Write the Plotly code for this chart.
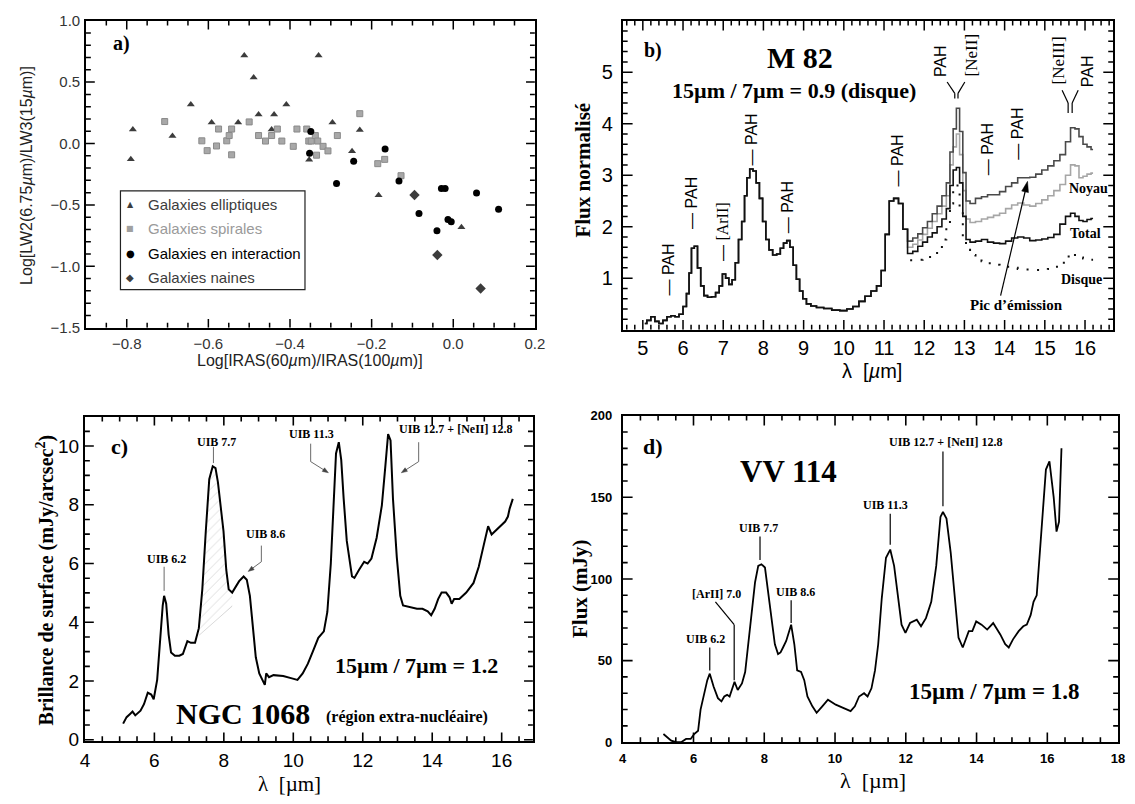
import math
import plotly.graph_objects as go

W, H = 1135, 804
SERIF = "Liberation Serif"
SANS = "Liberation Sans"

# ---------------- panel a : colour-colour diagram ----------------
ell_x = [-0.785, -0.790, -0.688, -0.643, -0.592, -0.527, -0.512, -0.489, -0.477, -0.439,
         -0.445, -0.409, -0.330, -0.353, -0.296, -0.248, -0.229, -0.183, 0.020]
ell_y = [0.115, -0.129, 0.062, 0.317, 0.171, 0.171, 0.716, 0.538, 0.237, 0.237,
         0.115, 0.317, 0.716, -0.132, 0.171, -0.063, 0.110, -0.421, -0.682]
spi_x = [-0.707, -0.616, -0.603, -0.580, -0.575, -0.555, -0.549, -0.543, -0.543, -0.500,
         -0.477, -0.460, -0.445, -0.431, -0.420, -0.383, -0.392, -0.359, -0.354, -0.348,
         -0.338, -0.335, -0.332, -0.319, -0.307, -0.284, -0.229, -0.185, -0.168, -0.128]
spi_y = [0.179, 0.022, -0.058, -0.020, 0.118, 0.022, 0.065, 0.118, -0.092, 0.176,
         0.065, 0.020, 0.065, 0.118, 0.020, 0.118, -0.023, 0.118, 0.020, 0.020,
         0.065, -0.095, 0.020, -0.023, -0.060, 0.065, 0.243, -0.164, -0.129, -0.262]
int_x = [-0.349, -0.352, -0.286, -0.244, -0.167, -0.133, -0.084, -0.029, -0.020, -0.040,
         -0.013, -0.005, 0.057, 0.111]
int_y = [0.097, -0.079, -0.326, -0.145, -0.044, -0.305, -0.570, -0.366, -0.366, -0.711,
         -0.618, -0.637, -0.403, -0.536]
nai_x = [-0.095, -0.039, 0.067]
nai_y = [-0.419, -0.908, -1.181]
legend_labels = ["Galaxies elliptiques", "Galaxies spirales",
                 "Galaxies en interaction", "Galaxies naines"]

# ---------------- panel b : M 82 ----------------
wl_b = [5.05, 5.15, 5.25, 5.35, 5.45, 5.55, 5.65, 5.75, 5.85, 5.95, 6.05, 6.12, 6.18, 6.24,
        6.32, 6.40, 6.48, 6.56, 6.66, 6.76, 6.86, 6.94, 7.02, 7.10, 7.18, 7.26, 7.34, 7.42,
        7.50, 7.56, 7.62, 7.70, 7.78, 7.86, 7.94, 8.02, 8.10, 8.18, 8.28, 8.38, 8.46, 8.54,
        8.62, 8.70, 8.78, 8.86, 8.94, 9.02, 9.12, 9.24, 9.40, 9.60, 9.80, 10.00, 10.15,
        10.30, 10.45, 10.60, 10.75, 10.88, 10.98, 11.08, 11.18, 11.30, 11.42, 11.52]
flux_b = [0.12, 0.18, 0.25, 0.16, 0.12, 0.18, 0.25, 0.27, 0.25, 0.30, 0.45, 0.70, 1.10, 1.58,
          1.62, 1.20, 0.85, 0.66, 0.63, 0.64, 0.72, 0.85, 1.08, 1.00, 0.88, 0.97, 1.30, 1.75,
          2.10, 2.60, 2.95, 3.12, 3.08, 2.85, 2.55, 2.10, 1.75, 1.55, 1.45, 1.47, 1.58, 1.68,
          1.73, 1.60, 1.25, 0.98, 0.75, 0.60, 0.50, 0.46, 0.43, 0.41, 0.38, 0.37, 0.40,
          0.45, 0.55, 0.65, 0.75, 0.85, 1.15, 1.85, 2.50, 2.55, 2.45, 1.95]
wl_b_tail = [11.65, 11.78, 11.90, 12.02, 12.14, 12.26, 12.38, 12.50, 12.60, 12.68, 12.76,
             12.84, 12.92, 13.00, 13.08, 13.20, 13.35, 13.50, 13.65, 13.80, 13.95, 14.10,
             14.25, 14.40, 14.55, 14.70, 14.85, 15.00, 15.15, 15.30, 15.45, 15.58, 15.70,
             15.80, 15.90, 16.00, 16.10, 16.20]
pic_b = [1.72, 1.78, 1.86, 1.98, 2.10, 2.25, 2.40, 2.60, 2.85, 3.45, 3.90, 4.30, 3.85, 3.05,
         2.50, 2.45, 2.55, 2.58, 2.62, 2.62, 2.68, 2.78, 2.85, 2.95, 2.95, 2.96, 3.02, 3.10,
         3.18, 3.28, 3.40, 3.65, 3.92, 3.90, 3.75, 3.60, 3.55, 3.50]
noyau_b = [1.60, 1.66, 1.74, 1.85, 1.97, 2.10, 2.25, 2.40, 2.60, 3.20, 3.55, 3.80, 3.40, 2.70,
           2.15, 2.08, 2.10, 2.15, 2.18, 2.22, 2.26, 2.35, 2.42, 2.46, 2.42, 2.40, 2.45, 2.52,
           2.60, 2.70, 2.82, 3.00, 3.20, 3.18, 2.95, 2.98, 3.02, 3.04]
total_b = [1.48, 1.52, 1.62, 1.70, 1.80, 1.88, 2.00, 2.15, 2.35, 2.80, 3.10, 3.15, 2.85, 2.20,
           1.75, 1.70, 1.72, 1.75, 1.70, 1.68, 1.67, 1.72, 1.78, 1.80, 1.78, 1.73, 1.74, 1.76,
           1.79, 1.85, 2.05, 2.20, 2.26, 2.20, 2.12, 2.10, 2.14, 2.16]
disque_b = [1.35, 1.35, 1.36, 1.38, 1.41, 1.45, 1.55, 1.75, 2.05, 2.45, 2.75, 2.80, 2.30, 1.75,
            1.55, 1.45, 1.38, 1.33, 1.29, 1.26, 1.24, 1.22, 1.20, 1.18, 1.17, 1.16, 1.16, 1.16,
            1.18, 1.22, 1.30, 1.42, 1.48, 1.45, 1.40, 1.38, 1.36, 1.36]

# ---------------- panel c : NGC 1068 ----------------
wl_c = [5.10, 5.20, 5.30, 5.37, 5.45, 5.60, 5.70, 5.81, 5.91, 5.98, 6.08, 6.16, 6.24, 6.28,
        6.34, 6.41, 6.48, 6.59, 6.72, 6.82, 6.89, 6.95, 7.05, 7.17, 7.28, 7.38, 7.48, 7.58,
        7.68, 7.76, 7.83, 7.90, 7.99, 8.07, 8.14, 8.24, 8.34, 8.44, 8.57, 8.66, 8.75, 8.82,
        8.92, 9.02, 9.12, 9.18, 9.22, 9.30, 9.43, 9.71, 9.96, 10.12, 10.27, 10.42, 10.57,
        10.72, 10.88, 10.98, 11.08, 11.16, 11.23, 11.31, 11.38, 11.45, 11.54, 11.69, 11.76,
        11.89, 12.04, 12.14, 12.25, 12.40, 12.55, 12.65, 12.73, 12.80, 12.87, 12.98, 13.08,
        13.16, 13.36, 13.56, 13.72, 13.87, 13.97, 14.07, 14.17, 14.27, 14.40, 14.50, 14.56,
        14.63, 14.78, 14.98, 15.19, 15.34, 15.49, 15.61, 15.71, 15.90, 16.10, 16.18, 16.23,
        16.32]
sb_c = [0.55, 0.77, 0.88, 0.96, 0.83, 0.99, 1.21, 1.60, 1.54, 1.38, 2.04, 3.47, 4.57, 4.90,
        4.63, 3.58, 2.97, 2.86, 2.86, 2.92, 3.14, 3.36, 3.30, 3.30, 3.80, 5.12, 7.10, 8.87,
        9.31, 9.25, 8.76, 8.09, 7.10, 5.78, 5.12, 5.01, 5.23, 5.40, 5.56, 5.45, 4.90, 4.02,
        2.81, 2.26, 2.04, 1.87, 2.26, 2.13, 2.20, 2.17, 2.09, 2.04, 2.26, 2.59, 3.03,
        3.47, 3.69, 4.35, 6.00, 7.87, 9.75, 10.13, 9.53, 8.21, 6.77, 5.56, 5.51,
        5.78, 6.06, 6.00, 6.17, 6.88, 7.98, 9.31, 10.41, 10.19, 8.21, 6.22, 4.90,
        4.57, 4.52, 4.46, 4.46, 4.37, 4.24, 4.46, 4.79, 5.01, 5.01, 4.85, 4.63,
        4.79, 4.79, 5.01, 5.34, 5.89, 6.66, 7.27, 6.99, 7.21, 7.43, 7.60, 7.87,
        8.20]
# continuum under the 7.7 band (hatched area)
hatch_wl = [7.28, 8.24]
hatch_base = [3.55, 4.55]

# ---------------- panel d : VV 114 ----------------
wl_d = [5.15, 5.37, 5.51, 5.65, 5.79, 5.92, 6.02, 6.13, 6.20, 6.28, 6.39, 6.46, 6.57, 6.69,
        6.79, 6.87, 6.95, 7.02, 7.09, 7.16, 7.25, 7.37, 7.46, 7.55, 7.65, 7.74, 7.83, 7.92,
        8.02, 8.11, 8.20, 8.30, 8.39, 8.46, 8.53, 8.62, 8.76, 8.85, 8.93, 9.04, 9.13, 9.22,
        9.36, 9.48, 9.64, 9.80, 10.02, 10.25, 10.44, 10.56, 10.68, 10.82, 10.92, 11.03,
        11.13, 11.22, 11.32, 11.44, 11.56, 11.67, 11.78, 11.88, 11.99, 12.12, 12.31, 12.43,
        12.57, 12.72, 12.86, 12.98, 13.05, 13.15, 13.27, 13.37, 13.49, 13.61, 13.78, 13.88,
        13.99, 14.14, 14.30, 14.47, 14.67, 14.81, 14.91, 15.03, 15.19, 15.32, 15.42, 15.53,
        15.61, 15.70, 15.82, 15.96, 16.06, 16.18, 16.26, 16.33, 16.40]
flux_d = [5, 1, 0, 0, 2, 2, 5, 7, 20, 28, 38, 42, 34, 27,
          25, 28, 29, 28, 33, 37, 32, 36, 43, 60, 80, 98, 108, 109,
          107, 92, 74, 60, 54, 55, 58, 62, 72, 60, 44, 43, 38, 28,
          22, 18, 22, 26, 23, 21, 19, 22, 28, 30, 28, 33,
          44, 60, 88, 113, 118, 108, 90, 72, 67, 73, 75, 71,
          76, 86, 108, 138, 141, 137, 116, 92, 64, 58, 68, 68,
          74, 72, 69, 73, 66, 60, 58, 63, 68, 71, 72, 78,
          86, 90, 124, 167, 172, 150, 129, 135, 180]

# panel frames: axis ranges and pixel boxes (left, right), (top, bottom)
PANELS = {
    "":  dict(xr=[-0.9, 0.2], yr=[-1.5, 1.0], bx=(82, 537), by=(12, 326)),
    "2": dict(xr=[4.5, 16.7], yr=[0.0, 6.0], bx=(626, 1123), by=(12, 328)),
    "3": dict(xr=[4.0, 16.9], yr=[-0.05, 11.0], bx=(81, 535), by=(417, 749)),
    "4": dict(xr=[4.0, 18.0], yr=[0.0, 200.0], bx=(626, 1128), by=(416, 750)),
}
# tick layout: (tick0, major step, minor step) for x and y, tick lengths, tick width
TICKS = {
    "":  dict(x=(-0.8, 0.2, 0.05), y=(-1.5, 0.5, 0.1), L=(9, 5), w=1.5),
    "2": dict(x=(5, 1, 0.2), y=(0, 1, 0.2), L=(10, 5), w=1.5),
    "3": dict(x=(4, 2, 0.5), y=(0, 2, 0.5), L=(9, 5), w=1.6),
    "4": dict(x=(4, 2, 0.5), y=(0, 50, 10), L=(10, 5), w=1.6),
}


def pxx(x):
    return x / W


def pxy(y):
    return 1 - y / H


def scales(ref):
    p = PANELS[ref]
    sx = (p["bx"][1] - p["bx"][0]) / (p["xr"][1] - p["xr"][0])
    sy = (p["by"][1] - p["by"][0]) / (p["yr"][1] - p["yr"][0])
    return sx, sy


fig = go.Figure()

# ---- panel a traces ----
fig.add_trace(go.Scatter(x=ell_x, y=ell_y, mode="markers", xaxis="x", yaxis="y",
                         marker=dict(symbol="triangle-up", size=7, color="#3c3c3c"),
                         showlegend=False, name=legend_labels[0]))
fig.add_trace(go.Scatter(x=spi_x, y=spi_y, mode="markers", xaxis="x", yaxis="y",
                         marker=dict(symbol="square", size=6, color="#a8a8a8",
                                     line=dict(color="#8a8a8a", width=1)),
                         showlegend=False, name=legend_labels[1]))
fig.add_trace(go.Scatter(x=int_x, y=int_y, mode="markers", xaxis="x", yaxis="y",
                         marker=dict(symbol="circle", size=7, color="#000000"),
                         showlegend=False, name=legend_labels[2]))
fig.add_trace(go.Scatter(x=nai_x, y=nai_y, mode="markers", xaxis="x", yaxis="y",
                         marker=dict(symbol="diamond", size=8, color="#3c3c3c"),
                         showlegend=False, name=legend_labels[3]))

# ---- panel b traces ----
full_b = wl_b + wl_b_tail
fig.add_trace(go.Scatter(x=full_b, y=flux_b + noyau_b, mode="lines", xaxis="x2", yaxis="y2",
                         line=dict(color="#a6a6a6", width=1.6, shape="hvh"), showlegend=False))
fig.add_trace(go.Scatter(x=full_b, y=flux_b + pic_b, mode="lines", xaxis="x2", yaxis="y2",
                         line=dict(color="#4a4a4a", width=1.6, shape="hvh"), showlegend=False))
fig.add_trace(go.Scatter(x=full_b, y=flux_b + total_b, mode="lines", xaxis="x2", yaxis="y2",
                         line=dict(color="#111111", width=1.6, shape="hvh"), showlegend=False))
fig.add_trace(go.Scatter(x=wl_b_tail, y=disque_b, mode="lines", xaxis="x2", yaxis="y2",
                         line=dict(color="#111111", width=2, shape="hvh", dash="2px,9px"),
                         showlegend=False))

# ---- panel c traces ----
seg = [i for i, w in enumerate(wl_c) if hatch_wl[0] <= w <= hatch_wl[1]]
fig.add_trace(go.Scatter(x=hatch_wl, y=hatch_base, mode="lines", xaxis="x3", yaxis="y3",
                         line=dict(color="rgba(150,150,150,0.6)", width=0.6), showlegend=False))
fig.add_trace(go.Scatter(x=[wl_c[i] for i in seg], y=[sb_c[i] for i in seg], mode="lines",
                         xaxis="x3", yaxis="y3", fill="tonexty", fillcolor="rgba(0,0,0,0)",
                         fillpattern=dict(shape="/", fgcolor="#a0a0a0", bgcolor="rgba(0,0,0,0)",
                                          size=7, solidity=0.1),
                         line=dict(width=0), showlegend=False))
fig.add_trace(go.Scatter(x=wl_c, y=sb_c, mode="lines", xaxis="x3", yaxis="y3",
                         line=dict(color="black", width=2), showlegend=False))

# ---- panel d traces ----
fig.add_trace(go.Scatter(x=wl_d, y=flux_d, mode="lines", xaxis="x4", yaxis="y4",
                         line=dict(color="black", width=1.8), showlegend=False))


def axis_pair(ref, xlab, ylab, size, color="black", weight="normal", fmt=None, lw=1.6,
              xoff=0, yoff=0):
    p = PANELS[ref]
    font = dict(family=SANS, size=size, color=color, weight=weight)
    common = dict(showline=True, linecolor="black", linewidth=lw, mirror=True,
                  showgrid=False, zeroline=False, ticks="", tickfont=font,
                  tickmode="array")
    xd = dict(common, domain=[pxx(p["bx"][0]), pxx(p["bx"][1])], range=p["xr"],
              tickvals=xlab, anchor="y" + ref, ticklabelstandoff=xoff)
    yd = dict(common, domain=[pxy(p["by"][1]), pxy(p["by"][0])], range=p["yr"],
              tickvals=ylab, anchor="x" + ref, ticklabelstandoff=yoff)
    if fmt:
        xd["tickformat"] = fmt
        yd["tickformat"] = fmt
    return {"xaxis" + ref: xd, "yaxis" + ref: yd}


layout = dict(width=W, height=H, margin=dict(l=0, r=0, t=0, b=0),
              paper_bgcolor="white", plot_bgcolor="white", showlegend=False)
layout.update(axis_pair("", [-0.8, -0.6, -0.4, -0.2, 0.0, 0.2],
                        [-1.5, -1.0, -0.5, 0.0, 0.5, 1.0], 15, color="#333", fmt=".1f",
                        lw=1.5, xoff=2, yoff=1))
layout.update(axis_pair("2", list(range(5, 17)), [1, 2, 3, 4, 5], 20, yoff=4))
layout.update(axis_pair("3", [4, 6, 8, 10, 12, 14, 16], [0, 2, 4, 6, 8, 10], 19, lw=2,
                        xoff=1))
layout.update(axis_pair("4", [4, 6, 8, 10, 12, 14, 16, 18], [0, 50, 100, 150, 200], 13,
                        weight="bold", lw=2, xoff=3, yoff=6))
fig.update_layout(**layout)

annotations = []
shapes = []


def seg_line(x0, y0, x1, y1, ref, width=1.2, color="black"):
    shapes.append(dict(type="line", x0=x0, y0=y0, x1=x1, y1=y1, xref="x" + ref, yref="y" + ref,
                       line=dict(color=color, width=width)))


def positions(lo, hi, start, step):
    n0 = math.ceil((lo - start) / step - 1e-9)
    n1 = math.floor((hi - start) / step + 1e-9)
    return [round(start + k * step, 6) for k in range(n0, n1 + 1)]


def is_major(v, start, step):
    q = (v - start) / step
    return abs(q - round(q)) < 1e-6


# inward tick marks on all four sides of every frame, as short line shapes in axis units
for ref, spec in TICKS.items():
    p = PANELS[ref]
    sx, sy = scales(ref)
    big, small = spec["L"]
    w = spec["w"]
    x_lo, x_hi = p["xr"]
    y_lo, y_hi = p["yr"]
    t0, maj, mnr = spec["x"]
    for v in positions(x_lo, x_hi, t0, mnr):
        if abs(v - x_lo) < 1e-9 or abs(v - x_hi) < 1e-9:
            continue
        L = (big if is_major(v, t0, maj) else small) / sy
        seg_line(v, y_lo, v, y_lo + L, ref, width=w)
        seg_line(v, y_hi, v, y_hi - L, ref, width=w)
    t0, maj, mnr = spec["y"]
    for v in positions(y_lo, y_hi, t0, mnr):
        if abs(v - y_lo) < 1e-9 or abs(v - y_hi) < 1e-9:
            continue
        L = (big if is_major(v, t0, maj) else small) / sx
        seg_line(x_lo, v, x_lo + L, v, ref, width=w)
        seg_line(x_hi, v, x_hi - L, v, ref, width=w)


def note(x, y, text, size, ref="paper", family=SERIF, bold=True, color="black",
         angle=0, xanchor="center", yanchor="middle"):
    if ref == "paper":
        xr, yr = "paper", "paper"
        x, y = pxx(x), pxy(y)
    else:
        xr, yr = "x" + ref, "y" + ref
    annotations.append(dict(x=x, y=y, xref=xr, yref=yr, text=text, showarrow=False,
                            textangle=angle, xanchor=xanchor, yanchor=yanchor,
                            font=dict(family=family, size=size, color=color,
                                      weight="bold" if bold else "normal")))


def arrow(xh, yh, xt, yt, ref, color="#444", width=0.8, head=6.0, half=2.2):
    """Shaft from tail to head plus a filled triangular head sized in screen pixels."""
    sx, sy = scales(ref)
    dx, dy = (xh - xt) * sx, (yh - yt) * sy
    n = math.hypot(dx, dy)
    ux, uy = dx / n, dy / n
    seg_line(xt, yt, xh - ux * head * 0.8 / sx, yh - uy * head * 0.8 / sy, ref,
             width=width, color=color)
    bx, by = -ux * head, -uy * head
    qx, qy = -uy * half, ux * half
    hx = [xh, xh + (bx + qx) / sx, xh + (bx - qx) / sx, xh]
    hy = [yh, yh + (by + qy) / sy, yh + (by - qy) / sy, yh]
    fig.add_trace(go.Scatter(x=hx, y=hy, mode="lines", fill="toself", fillcolor=color,
                             line=dict(color=color, width=0.5), xaxis="x" + ref,
                             yaxis="y" + ref, hoverinfo="skip", showlegend=False))


# ---- panel a texts ----
note(118, 35, "a)", 20)
note(309, 360, "Log[IRAS(60<i>µ</i>m)/IRAS(100<i>µ</i>m)]", 16, family=SANS, bold=False,
     color="#222")
note(21, 170, "Log[LW2(6.75<i>µ</i>m)/LW3(15<i>µ</i>m)]", 16, family=SANS, bold=False,
     color="#222", angle=-90)
shapes.append(dict(type="rect", xref="paper", yref="paper", x0=pxx(117), x1=pxx(304),
                   y0=pxy(287), y1=pxy(186), line=dict(color="#222", width=1.2)))
leg_sym = ["▲", "■", "●", "◆"]
leg_col = ["#3c3c3c", "#a0a0a0", "#000000", "#3c3c3c"]
leg_size = [8, 8, 10, 10]
for i, (s, lab) in enumerate(zip(leg_sym, legend_labels)):
    yy = 200 + i * 25
    note(127, yy, s, leg_size[i], family="DejaVu Sans", bold=False, color=leg_col[i])
    note(143, yy, lab, 15, family=SANS, bold=False,
         color=leg_col[i] if i != 1 else "#9a9a9a", xanchor="left")

# ---- panel b texts ----
note(657, 42, "b)", 20)
note(806, 50, "M 82", 30)
note(800, 83, "15µm / 7µm = 0.9 (disque)", 22)
pah_marks = [(5.63, 1.17), (6.21, 2.47), (7.70, 3.70), (8.60, 2.37), (11.33, 3.29),
             (13.58, 3.50), (14.30, 3.80)]
for (xw, yf) in pah_marks:
    note(xw, yf, "— PAH", 16, ref="2", family=SANS, bold=False, angle=-90)
note(7.0, 1.90, "— <span style='font-family:Liberation Serif'>[ArII]</span>", 16, ref="2",
     family=SANS, bold=False, angle=-90)
note(12.41, 5.21, "PAH", 16, ref="2", family=SANS, bold=False, angle=-90)
note(13.18, 5.32, "[NeII]", 17, ref="2", family=SERIF, bold=False, angle=-90)
note(15.33, 5.23, "[NeIII]", 17, ref="2", family=SERIF, bold=False, angle=-90)
note(16.05, 5.02, "PAH", 16, ref="2", family=SANS, bold=False, angle=-90)
# forked leaders above the 12.8 and 15.6 features
seg_line(12.57, 4.81, 12.76, 4.59, "2")
seg_line(13.01, 4.81, 12.84, 4.59, "2")
seg_line(12.76, 4.59, 12.76, 4.49, "2")
seg_line(12.84, 4.59, 12.84, 4.49, "2")
seg_line(15.43, 4.65, 15.58, 4.40, "2")
seg_line(15.83, 4.65, 15.68, 4.40, "2")
seg_line(15.58, 4.40, 15.58, 4.21, "2")
seg_line(15.68, 4.40, 15.68, 4.21, "2")
note(1098, 184, "Noyau", 14)
note(1095, 230, "Total", 14)
note(1091, 277, "Disque", 14)
note(1025, 303, "Pic d’émission", 15)
arrow(14.57, 2.88, 13.90, 0.66, "2", color="black", width=1.2, head=11, half=3.5)
note(879, 370, "λ  [<i>µ</i>m]", 20, family=SANS, bold=False)
note(586, 165, "Flux normalisé", 21, angle=-90)

# ---- panel c texts ----
note(4.99, 9.97, "c)", 22, ref="3")
note(6.36, 6.15, "UIB 6.2", 12, ref="3")
seg_line(6.28, 5.89, 6.28, 5.07, "3", width=0.8, color="#444")
note(7.78, 10.13, "UIB 7.7", 12, ref="3")
seg_line(7.70, 9.97, 7.70, 9.42, "3", width=0.8, color="#444")
note(9.20, 6.99, "UIB 8.6", 12, ref="3")
seg_line(9.08, 6.61, 9.08, 6.06, "3", width=0.8, color="#444")
arrow(8.70, 5.73, 9.08, 6.06, "3")
note(10.52, 10.41, "UIB 11.3", 12, ref="3")
seg_line(10.50, 10.08, 10.50, 9.47, "3", width=0.8, color="#444")
arrow(11.01, 9.09, 10.50, 9.47, "3")
note(14.68, 10.57, "UIB 12.7 + [NeII] 12.8", 12, ref="3")
seg_line(13.61, 10.13, 13.61, 9.47, "3", width=0.8, color="#444")
arrow(13.11, 9.09, 13.61, 9.47, "3")
note(13.56, 2.53, "15µm / 7µm = 1.2", 22, ref="3")
note(8.54, 0.88, "NGC 1068", 30, ref="3")
note(13.26, 0.77, "(région extra-nucléaire)", 16, ref="3")
note(288, 793, "λ  [µm]", 21, bold=False)
note(41, 584, "Brillance de surface (mJy/arcsec<sup>2</sup>)", 20, angle=-90)

# ---- panel d texts ----
note(4.86, 181, "d)", 22, ref="4")
note(8.69, 166, "VV 114", 31, ref="4")
note(6.34, 63, "UIB 6.2", 12, ref="4")
seg_line(6.46, 58, 6.46, 44, "4")
note(6.65, 91, "[ArII] 7.0", 12, ref="4")
seg_line(6.62, 86, 7.15, 72, "4")
seg_line(7.15, 72, 7.15, 38, "4")
note(7.85, 131, "UIB 7.7", 12, ref="4")
seg_line(7.88, 126, 7.88, 111.6, "4")
note(8.88, 92, "UIB 8.6", 12, ref="4")
seg_line(8.76, 87, 8.76, 73, "4")
note(11.44, 145, "UIB 11.3", 12, ref="4")
seg_line(11.56, 140, 11.56, 121, "4")
note(13.13, 184, "UIB 12.7 + [NeII] 12.8", 12, ref="4")
seg_line(13.05, 178, 13.05, 144.6, "4")
note(14.52, 31, "15µm / 7µm = 1.8", 23, ref="4")
note(880, 789, "λ  [µm]", 22, bold=False)
note(582, 593, "Flux (mJy)", 21, angle=-90)

fig.update_layout(annotations=annotations, shapes=shapes)
fig.write_html("out.html")
